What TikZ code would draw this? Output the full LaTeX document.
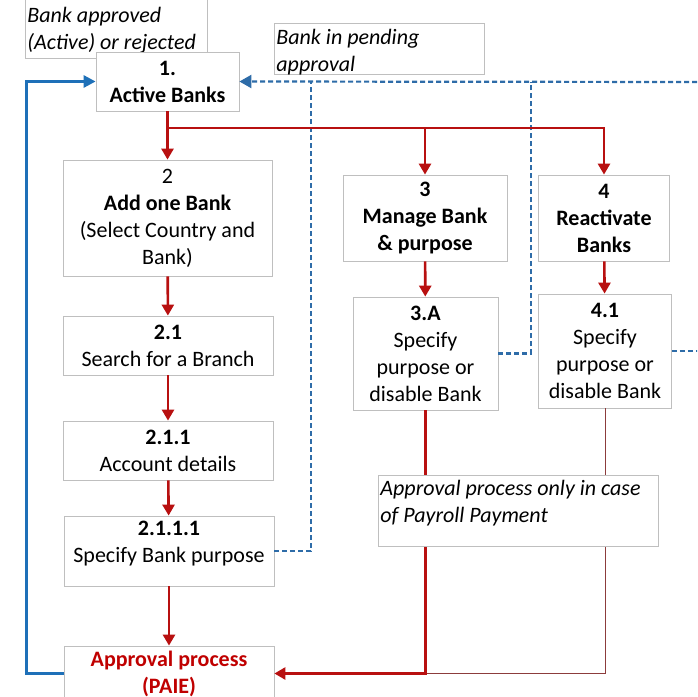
\documentclass[tikz,border=0pt]{standalone}
\usepackage{fontspec}
\setmainfont{Carlito}
\usepackage{xcolor}
\usepackage{tikz}
\usetikzlibrary{
  arrows.meta,
  positioning,
  calc
}

\definecolor{flowred}{RGB}{184,16,16}
\definecolor{labelred}{RGB}{192,0,0}
\definecolor{loopblue}{RGB}{30,112,184}
\definecolor{waitblue}{RGB}{46,108,168}
\definecolor{joinred}{RGB}{140,60,60}

\begin{document}
\begin{tikzpicture}[
    x=1pt, y=-1pt,
    every node/.style={font=\fontsize{22}{27}\selectfont},
    box/.style={draw=black!25, line width=0.8pt, fill=white,
                align=center, inner sep=0pt},
    note/.style={draw=black!25, line width=0.8pt, fill=white,
                 align=flush left, inner xsep=2pt, inner ysep=1pt,
                 font=\fontsize{22}{27}\selectfont\itshape,
                 text height=19pt},
    arr/.style={-{Triangle[length=11pt, width=12pt]}, line width=2.6pt,
                flowred},
    back/.style={-{Triangle[length=12pt, width=12pt]}, line width=2.8pt,
                 loopblue},
    wait/.style={line width=2.2pt, waitblue, dash pattern=on 5pt off 3pt},
    joinline/.style={line width=1pt, joinred},
  ]
  \clip (0,0) rectangle (697,697);
  \fill[white] (0,0) rectangle (697,697);

  % ---- Notes ----
  \node[note, anchor=south west, text width=178pt, text height=30pt,
        text depth=35pt] (approved) at (25,59)
    {Bank approved\\(Active) or rejected};
  \node[note, anchor=north west, text width=206pt, text depth=28pt,
        inner ysep=2pt] (pending) at (274,23)
    {Bank in pending\\approval};

  % ---- Left column ----
  \node[box, minimum width=143pt, minimum height=59pt] (active)
    at (167.5,81.5) {\textbf{1.}\\\textbf{Active Banks}};
  \node[box, minimum width=209pt, minimum height=116pt] (add)
    at (167.5,218) {2\\\textbf{Add one Bank}\\(Select Country and\\Bank)};
  \node[box, minimum width=210pt, minimum height=59pt] (branch)
    at (168,345.5) {\textbf{2.1}\\Search for a Branch};
  \node[box, minimum width=210pt, minimum height=59pt] (account)
    at (168,450.5) {\textbf{2.1.1}\\Account details};
  \node[box, minimum width=210pt, minimum height=70pt] (purpose)
    at (169,551) {\textbf{2.1.1.1}\\Specify Bank purpose\\[-8pt]};
  \node[box, minimum width=210pt, minimum height=55pt, text=labelred]
    (approval) at (169,673.5) {\textbf{Approval process}\\\textbf{(PAIE)}};

  % ---- Right columns ----
  \node[box, minimum width=164pt, minimum height=86pt] (manage)
    at (425,218) {\textbf{3}\\\textbf{Manage Bank}\\\textbf{\& purpose}};
  \node[box, minimum width=131pt, minimum height=86pt] (react)
    at (604,218) {\textbf{4}\\\textbf{Reactivate}\\\textbf{Banks}};
  \node[box, minimum width=145pt, minimum height=113pt] (specA)
    at (425.5,353.5) {\textbf{3.A}\\Specify\\purpose or\\disable Bank};
  \node[box, minimum width=133pt, minimum height=114pt] (spec41)
    at (605,351) {\textbf{4.1}\\Specify\\purpose or\\disable Bank};

  % ---- Helper points ----
  \coordinate (fork) at (167.5,128);
  \coordinate (dropA) at (311,82);
  \coordinate (dropB) at (531,82);
  \coordinate (edge) at (705,82);
  \coordinate (joint) at (specA.south |- approval.east);

  % ---- Pending approval (dashed) ----
  \draw[wait] (purpose.east) -| (dropA);
  \draw[wait] (specA.east) -| (dropB);
  \draw[wait] (spec41.east) -- (spec41.east -| edge);
  \draw[wait, -{Triangle[length=12pt, width=13pt]}] (edge) -- (active.east);

  % ---- Flow arrows ----
  \draw[arr] (active.south) -- (add.north);
  \draw[arr] (fork) -| (manage.north);
  \draw[arr] (fork) -| (react.north);
  \draw[arr] (add) -- (branch);
  \draw[arr] (branch) -- (account);
  \draw[arr] (account) -- (purpose);
  \draw[arr] (purpose) -- (approval);
  \draw[arr] (manage) -- (specA);
  \draw[arr] (react) -- (spec41);

  % ---- Back to approval ----
  \draw[joinline] (spec41.south) |- (joint);
  \draw[arr] (specA.south) |- (approval.east);
  \draw[back] (approval.west) -- ++(-37,0) |- (active.west);

  % ---- Payroll note ----
  \node[note, anchor=north west, text width=276pt, text depth=50pt]
    (payroll) at (378,475)
    {Approval process only in case\\of Payroll Payment};

\end{tikzpicture}
\end{document}
